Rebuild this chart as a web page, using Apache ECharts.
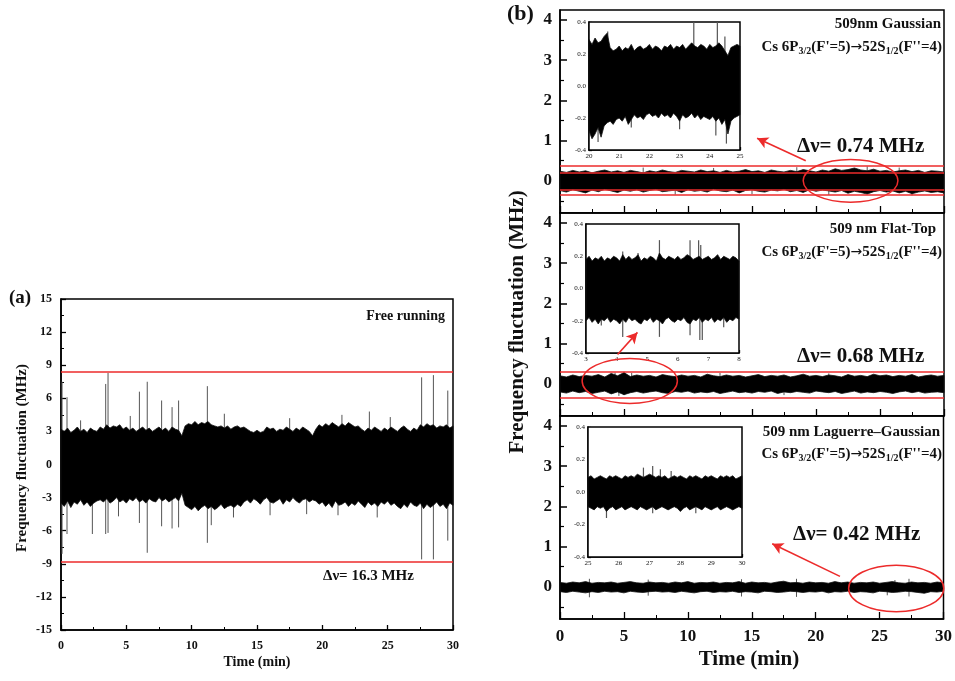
<!DOCTYPE html>
<html><head><meta charset="utf-8">
<script src="https://cdn.jsdelivr.net/npm/echarts@6/dist/echarts.min.js"></script>
<style>html,body{margin:0;padding:0;background:#fff}#c{width:955px;height:681px}</style>
</head><body><div id="c"></div>
<script>
// ---------------- DATA ----------------
// Panel (a): free running, envelope of the noise band sampled every 0.25 min (0..30)
const aStart = 0, aStep = 0.25;
const aUp = [3.2,3.0,3.3,2.9,3.1,3.4,3.0,3.2,2.9,3.3,3.1,3.0,3.4,3.2,3.6,3.3,3.5,3.4,3.6,3.2,
             3.4,3.1,3.3,3.0,3.2,3.4,3.1,3.3,3.0,3.2,3.4,3.1,3.3,3.0,3.4,3.2,3.1,2.6,3.5,3.7,
             3.6,3.9,3.6,3.8,3.7,3.9,3.6,3.5,3.4,3.5,3.3,3.5,3.2,3.4,3.5,3.3,3.4,3.2,3.0,2.9,
             3.1,2.9,3.0,3.4,3.2,3.3,3.0,3.2,3.1,3.4,3.2,3.0,3.3,3.1,3.4,3.2,3.0,2.6,3.2,3.6,
             3.4,3.7,3.5,3.8,3.6,3.4,3.7,3.5,3.8,3.6,3.4,3.5,3.2,3.0,3.3,3.1,3.4,3.2,3.0,3.3,
             3.1,3.4,3.2,3.0,3.3,3.5,3.2,3.0,3.3,3.1,3.6,3.4,3.7,3.5,3.6,3.3,3.5,3.4,3.6,3.3,3.5];
const aLo = [-3.5,-3.8,-3.3,-3.9,-3.4,-3.6,-3.2,-3.7,-3.4,-3.8,-3.5,-3.3,
             -3.2,-3.4,-3.1,-3.5,-3.3,-3.0,-3.4,-3.2,-3.5,-3.1,-3.3,-3.0,-3.4,-3.2,-3.5,-3.1,-3.3,-3.4,-3.0,-3.3,-3.1,-3.4,-3.2,-3.0,-3.3,
             -2.6,
             -3.7,-3.9,-4.1,-3.8,-4.2,-3.9,-3.7,-4.0,-3.8,-4.1,-3.9,-3.6,-4.0,-3.8,-3.7,-3.9,-3.6,-3.8,
             -3.4,-3.2,-3.5,-3.1,-3.3,-3.6,-3.2,-3.0,-3.4,-3.5,-3.3,-3.1,-3.6,-3.2,-3.4,-3.0,-3.3,-3.5,-3.2,-3.1,-3.4,-3.2,-3.3,
             -3.6,-3.4,-3.8,-3.5,-3.9,-3.3,-3.7,-3.6,-3.4,-3.8,-3.5,-3.7,-3.3,-3.6,-3.9,-3.4,-3.7,-3.5,-3.8,-3.4,-3.6,-3.3,-3.7,
             -3.5,-3.8,-4.0,-3.6,-3.9,-3.4,-3.7,-3.8,-3.5,-4.0,-3.6,-3.9,-3.7,-3.4,-3.8,-3.6,-4.0,-3.5,-3.7];
const aSpikeT = [0.08,0.46,1.5,3.42,3.6,5.3,6.0,6.6,7.7,8.5,9.0,11.2,12.5,17.5,21.5,23.6,25.2,27.6,28.5,29.6,
                 0.08,0.46,2.4,3.42,3.6,4.4,6.0,6.6,7.7,8.5,9.0,11.2,11.5,13.2,16.0,18.8,21.2,24.2,27.6,28.5,29.6];
const aSpikeV = [7.5,6.1,4.0,7.3,8.3,4.4,6.6,7.5,5.8,5.2,5.8,7.1,4.6,4.2,4.5,4.8,4.3,7.9,8.1,6.7,
                 -8.1,-6.3,-6.3,-6.3,-6.2,-4.7,-5.3,-8.0,-5.6,-5.8,-5.7,-7.1,-5.5,-4.8,-4.6,-4.5,-4.6,-4.8,-8.6,-8.6,-6.9];
const aLimits = [8.4, -8.8];

// Panel (b): envelopes sampled every 0.5 min (0..30)
const bStart = 0, bStep = 0.5;
const b1Up = [0.24,0.21,0.26,0.22,0.25,0.20,0.24,0.27,0.22,0.25,0.21,0.26,0.23,0.20,0.25,0.22,0.27,0.23,0.21,0.26,
              0.24,0.22,0.27,0.23,0.25,0.21,0.26,0.22,0.24,0.28,0.23,0.25,0.21,0.27,0.24,0.22,0.26,0.23,0.28,0.25,
              0.22,0.27,0.24,0.30,0.26,0.28,0.32,0.27,0.25,0.29,0.24,0.26,0.22,0.25,0.27,0.23,0.26,0.21,0.25,0.24,0.22];
const b1Lo = [-0.24,-0.28,-0.22,-0.26,-0.30,-0.23,-0.27,-0.21,-0.25,-0.29,-0.23,-0.26,-0.22,-0.28,-0.24,-0.21,-0.27,-0.25,-0.23,-0.29,
              -0.22,-0.26,-0.24,-0.28,-0.21,-0.25,-0.27,-0.23,-0.30,-0.24,-0.22,-0.26,-0.28,-0.23,-0.25,-0.21,-0.27,-0.24,-0.29,-0.22,
              -0.26,-0.23,-0.25,-0.28,-0.24,-0.31,-0.26,-0.29,-0.33,-0.27,-0.24,-0.28,-0.25,-0.30,-0.26,-0.32,-0.28,-0.25,-0.29,-0.27,-0.30];
const b1SpikeT = [6.5,12,18.5,24,26.5,9,15,21,27.5];
const b1SpikeV = [0.33,0.32,0.34,0.36,0.33,-0.34,-0.33,-0.35,-0.36];
const b1Limits = [0.37, 0.19, -0.22, -0.35];

const b2Up = [0.20,0.17,0.22,0.18,0.21,0.19,0.23,0.17,0.26,0.20,0.28,0.18,0.22,0.19,0.21,0.17,0.23,0.20,0.18,0.22,
              0.19,0.21,0.17,0.24,0.20,0.18,0.22,0.19,0.21,0.17,0.20,0.23,0.18,0.21,0.19,0.22,0.17,0.20,0.24,0.19,
              0.21,0.18,0.22,0.20,0.17,0.23,0.19,0.21,0.18,0.24,0.20,0.22,0.18,0.21,0.19,0.23,0.17,0.20,0.22,0.19,0.21];
const b2Lo = [-0.20,-0.23,-0.18,-0.22,-0.19,-0.24,-0.21,-0.18,-0.25,-0.20,-0.27,-0.22,-0.19,-0.23,-0.20,-0.18,-0.22,-0.24,-0.19,-0.21,
              -0.18,-0.23,-0.20,-0.22,-0.19,-0.24,-0.21,-0.18,-0.22,-0.20,-0.23,-0.19,-0.21,-0.18,-0.24,-0.20,-0.22,-0.19,-0.21,-0.23,
              -0.18,-0.20,-0.22,-0.19,-0.24,-0.21,-0.18,-0.23,-0.20,-0.22,-0.19,-0.21,-0.24,-0.20,-0.18,-0.22,-0.19,-0.23,-0.21,-0.20,-0.22];
const b2SpikeT = [4.3,5.0,5.6,12.5,21,4.6,5.0,17.5];
const b2SpikeV = [0.28,0.30,0.27,0.27,0.26,-0.30,-0.28,-0.28];
const b2Limits = [0.31, -0.35];

const b3Up = [0.11,0.09,0.12,0.10,0.13,0.09,0.11,0.10,0.12,0.09,0.11,0.13,0.10,0.09,0.12,0.10,0.11,0.09,0.12,0.10,
              0.13,0.09,0.11,0.10,0.12,0.09,0.11,0.10,0.13,0.09,0.12,0.10,0.11,0.09,0.12,0.14,0.10,0.11,0.09,0.12,
              0.10,0.11,0.09,0.13,0.10,0.12,0.09,0.11,0.10,0.12,0.09,0.11,0.13,0.10,0.09,0.12,0.10,0.11,0.09,0.12,0.10];
const b3Lo = [-0.12,-0.14,-0.11,-0.13,-0.15,-0.12,-0.14,-0.11,-0.13,-0.12,-0.15,-0.11,-0.13,-0.14,-0.12,-0.11,-0.13,-0.12,-0.14,-0.11,
              -0.13,-0.15,-0.12,-0.11,-0.14,-0.12,-0.13,-0.11,-0.14,-0.12,-0.13,-0.15,-0.11,-0.12,-0.14,-0.13,-0.11,-0.12,-0.14,-0.12,
              -0.13,-0.11,-0.15,-0.12,-0.13,-0.11,-0.14,-0.12,-0.13,-0.15,-0.11,-0.12,-0.14,-0.13,-0.11,-0.12,-0.14,-0.16,-0.12,-0.13,-0.11];
const b3SpikeT = [2.3,6.9,14.2,18.5,26.2,27.3,2.3,6.9,14.2,18.5,25.6,27.3];
const b3SpikeV = [0.20,0.18,0.19,0.20,0.17,0.20,-0.26,-0.22,-0.24,-0.25,-0.21,-0.24];

// Insets: envelopes sampled every 0.1 min
const inStep = 0.1;
const in1Start = 20;
const in1Up = [0.29,0.26,0.30,0.27,0.28,0.31,0.33,0.24,0.22,0.23,
               0.25,0.22,0.24,0.23,0.26,0.22,0.24,0.25,0.23,0.24,
               0.26,0.23,0.25,0.24,0.22,0.25,0.24,0.26,0.23,0.25,
               0.24,0.26,0.23,0.25,0.27,0.25,0.24,0.26,0.25,0.23,
               0.26,0.24,0.25,0.27,0.25,0.22,0.19,0.24,0.25,0.26,0.25];
const in1Lo = [-0.28,-0.33,-0.30,-0.26,-0.32,-0.25,-0.23,-0.22,-0.24,-0.21,
               -0.20,-0.22,-0.19,-0.24,-0.21,-0.18,-0.20,-0.19,-0.21,-0.18,
               -0.17,-0.19,-0.18,-0.20,-0.17,-0.19,-0.18,-0.20,-0.17,-0.19,
               -0.22,-0.18,-0.20,-0.19,-0.17,-0.20,-0.18,-0.21,-0.19,-0.20,
               -0.21,-0.19,-0.22,-0.20,-0.24,-0.21,-0.30,-0.22,-0.20,-0.19,-0.18];
const in1SpikeT = [23.47,24.25,20.62,24.5,23.0,24.2,24.55,20.3,21.4];
const in1SpikeV = [0.40,0.40,0.34,0.31,-0.27,-0.31,-0.36,-0.35,-0.26];

const in2Start = 3;
const in2Up = [0.18,0.20,0.17,0.19,0.18,0.20,0.17,0.19,0.18,0.20,
               0.19,0.17,0.21,0.18,0.20,0.18,0.19,0.21,0.17,0.19,
               0.18,0.20,0.19,0.17,0.22,0.19,0.18,0.20,0.19,0.18,
               0.20,0.18,0.19,0.21,0.20,0.18,0.19,0.20,0.18,0.19,
               0.20,0.18,0.19,0.21,0.18,0.20,0.19,0.18,0.20,0.19,0.17];
const in2Lo = [-0.20,-0.18,-0.21,-0.19,-0.22,-0.19,-0.20,-0.18,-0.21,-0.19,
               -0.20,-0.22,-0.19,-0.21,-0.18,-0.20,-0.19,-0.21,-0.22,-0.19,
               -0.20,-0.18,-0.21,-0.19,-0.20,-0.22,-0.19,-0.18,-0.20,-0.21,
               -0.19,-0.20,-0.18,-0.21,-0.22,-0.19,-0.20,-0.18,-0.21,-0.19,
               -0.20,-0.18,-0.21,-0.19,-0.20,-0.18,-0.21,-0.19,-0.20,-0.18,-0.19];
const in2SpikeT = [4.2,4.7,5.4,6.4,6.68,6.75,3.5,4.2,5.4,6.4,6.72,6.8,7.5];
const in2SpikeV = [0.23,0.22,0.30,0.30,0.30,0.27,-0.23,-0.30,-0.30,-0.29,-0.32,-0.32,-0.24];

const in3Start = 25;
const in3Up = [0.09,0.10,0.08,0.09,0.10,0.09,0.08,0.10,0.09,0.10,
               0.09,0.08,0.10,0.09,0.10,0.09,0.11,0.10,0.09,0.10,
               0.11,0.10,0.09,0.10,0.09,0.10,0.08,0.09,0.10,0.09,
               0.10,0.09,0.08,0.10,0.09,0.10,0.09,0.08,0.10,0.09,
               0.10,0.09,0.08,0.10,0.09,0.10,0.09,0.10,0.08,0.09,0.10];
const in3Lo = [-0.09,-0.10,-0.11,-0.09,-0.10,-0.09,-0.12,-0.10,-0.09,-0.11,
               -0.10,-0.09,-0.11,-0.10,-0.09,-0.10,-0.11,-0.09,-0.10,-0.11,
               -0.10,-0.09,-0.11,-0.10,-0.09,-0.10,-0.11,-0.10,-0.09,-0.10,
               -0.12,-0.10,-0.09,-0.11,-0.10,-0.09,-0.10,-0.11,-0.09,-0.10,
               -0.11,-0.10,-0.09,-0.11,-0.10,-0.09,-0.10,-0.11,-0.10,-0.09,-0.10];
const in3SpikeT = [26.8,27.1,27.35,27.7,25.6,27.1,28.5];
const in3SpikeV = [0.15,0.16,0.14,0.13,-0.16,-0.13,-0.13];

const bMajorY = [0,1,2,3,4];
const bMinorY = [-0.5,0.5,1.5,2.5,3.5];

// ---------------- CHART ----------------
const FONT = "'Liberation Serif','Times New Roman',serif";
const RED = '#ec2b2b';
const INK = '#111';
const chart = echarts.init(document.getElementById('c'));

function pairs(ts, vs){ return ts.map((t,i)=>[t, vs[i]]); }

function xAx(gi, min, max, interval, showLabel, fs, tl, ml, margin){
  return {type:'value', gridIndex:gi, min, max, interval,
    axisLine:{show:true, onZero:false, lineStyle:{color:'#000', width:1.5}},
    axisTick:{show:true, inside:true, length:tl, lineStyle:{color:'#000', width:1.3}},
    minorTick:{show:true, splitNumber:2, length:ml, lineStyle:{color:'#000', width:1}},
    axisLabel:{show:showLabel, color:INK, fontFamily:FONT, fontWeight:showLabel&&fs>8?'bold':'normal', fontSize:fs, margin},
    splitLine:{show:false}, minorSplitLine:{show:false}};
}
function yAxStd(gi, min, max, interval, fs, tl, ml, margin, fmt){
  return {type:'value', gridIndex:gi, min, max, interval,
    axisLine:{show:true, onZero:false, lineStyle:{color:'#000', width:1.5}},
    axisTick:{show:true, inside:true, length:tl, lineStyle:{color:'#000', width:1.3}},
    minorTick:{show:true, splitNumber:2, length:ml, lineStyle:{color:'#000', width:1}},
    axisLabel:{color:INK, fontFamily:FONT, fontWeight: fs>8?'bold':'normal', fontSize:fs, margin, formatter:fmt},
    splitLine:{show:false}, minorSplitLine:{show:false}};
}
function yAxB(gi){
  return {type:'value', gridIndex:gi, min:-0.8, max:4.25,
    axisLine:{show:true, onZero:false, lineStyle:{color:'#000', width:1.5}},
    axisTick:{show:true, inside:true, length:7, lineStyle:{color:'#000', width:1.5}, customValues:bMajorY},
    axisLabel:{color:INK, fontFamily:FONT, fontWeight:'bold', fontSize:17, margin:8, customValues:bMajorY},
    splitLine:{show:false}};
}
function yAxBminor(gi){
  return {type:'value', gridIndex:gi, min:-0.8, max:4.25, position:'left',
    axisLine:{show:false},
    axisTick:{show:true, inside:true, length:4, lineStyle:{color:'#000', width:1.2}, customValues:bMinorY},
    axisLabel:{show:false},
    splitLine:{show:false}};
}

const grids = [
  {left:61, top:299, width:392, height:331},
  {left:560, top:10, width:384, height:203},
  {left:560, top:213, width:384, height:203},
  {left:560, top:416, width:384, height:203},
  {left:589, top:22, width:151, height:128, z:5},
  {left:586, top:224, width:153, height:129, z:5},
  {left:588, top:427, width:154, height:130, z:5}
].map(g=>Object.assign({show:true, borderColor:'#000', borderWidth:1.5, backgroundColor:'#fff', containLabel:false}, g));

const xAxes = [
  xAx(0, 0, 30, 5, true, 12, 5, 3, 10),
  xAx(1, 0, 30, 5, false, 16, 7, 4, 8),
  xAx(2, 0, 30, 5, false, 16, 7, 4, 8),
  xAx(3, 0, 30, 5, true, 17, 7, 4, 9),
  xAx(4, 20, 25, 1, true, 7, 3, 2, 3),
  xAx(5, 3, 8, 1, true, 7, 3, 2, 3),
  xAx(6, 25, 30, 1, true, 7, 3, 2, 3)
];
const fmt1 = v => v.toFixed(1);
const yAxes = [
  yAxStd(0, -15, 15, 3, 12, 5, 3, 9),
  yAxB(1), yAxB(2), yAxB(3),
  yAxStd(4, -0.4, 0.4, 0.2, 7, 3, 2, 3, fmt1),
  yAxStd(5, -0.4, 0.4, 0.2, 7, 3, 2, 3, fmt1),
  yAxStd(6, -0.4, 0.4, 0.2, 7, 3, 2, 3, fmt1),
  yAxBminor(1), yAxBminor(2), yAxBminor(3)
];

// the noise band: one filled outline through the upper envelope and back along the lower one
function bandSeries(ax, start, step, up, lo, z){
  return {type:'custom', xAxisIndex:ax, yAxisIndex:ax, data:[[start, 0]], silent:true, z:z||3,
    renderItem:(params, api)=>{
      const pts = [];
      for (let i = 0; i < up.length; i++) pts.push(api.coord([start + i*step, up[i]]));
      for (let i = lo.length - 1; i >= 0; i--) pts.push(api.coord([start + i*step, lo[i]]));
      return {type:'polygon', shape:{points:pts}, style:{fill:'#000', stroke:'#111', lineWidth:0.8}};
    }};
}
// isolated spikes, drawn under the band so only their outer part shows
function spikeSeries(ax, data, w, z){
  return {type:'custom', xAxisIndex:ax, yAxisIndex:ax, data, silent:true, z:z||2,
    renderItem:(params, api)=>{
      const p0 = api.coord([api.value(0), 0]);
      const p1 = api.coord([api.value(0), api.value(1)]);
      return {type:'line', shape:{x1:p0[0], y1:p0[1], x2:p1[0], y2:p1[1]},
              style:{stroke:'#555', lineWidth:w||1}};
    }};
}
// red limit lines and arrows, carried by an empty line series drawn above the band
function limitSeries(ax, vals, arrows){
  const data = vals.map(v=>({yAxis:v}));
  (arrows||[]).forEach(a=>data.push([{coord:[a[0],a[1]], symbol:'none'}, {coord:[a[2],a[3]], symbol:'arrow', symbolSize:[9,11]}]));
  return {type:'line', xAxisIndex:ax, yAxisIndex:ax, data:[], z:10, silent:true,
    markLine:{silent:true, symbol:['none','none'], label:{show:false}, z:10,
      lineStyle:{color:RED, width:1.6, type:'solid'}, data, animation:false}};
}
function ellipseSeries(ax, e){
  return {type:'custom', xAxisIndex:ax, yAxisIndex:ax, data:[e], silent:true, z:7, clip:false,
    renderItem:(params, api)=>{
      const c = api.coord([api.value(0), api.value(1)]);
      const s = api.size([api.value(2), api.value(3)]);
      return {type:'ellipse', shape:{cx:c[0], cy:c[1], rx:s[0], ry:s[1]},
              style:{fill:'none', stroke:RED, lineWidth:1.5}};
    }};
}

const series = [
  bandSeries(0, aStart, aStep, aUp, aLo, 3),
  spikeSeries(0, pairs(aSpikeT, aSpikeV), 1),
  limitSeries(0, aLimits),

  bandSeries(1, bStart, bStep, b1Up, b1Lo, 3),
  spikeSeries(1, pairs(b1SpikeT, b1SpikeV), 1),
  limitSeries(1, b1Limits, [[19.2,0.5,15.4,1.06]]),
  ellipseSeries(1, [22.7, 0.0, 3.7, 0.53]),

  bandSeries(2, bStart, bStep, b2Up, b2Lo, 3),
  spikeSeries(2, pairs(b2SpikeT, b2SpikeV), 1),
  limitSeries(2, b2Limits, [[4.5,0.73,6.05,1.28]]),
  ellipseSeries(2, [5.45, 0.07, 3.72, 0.56]),

  bandSeries(3, bStart, bStep, b3Up, b3Lo, 3),
  spikeSeries(3, pairs(b3SpikeT, b3SpikeV), 1),
  limitSeries(3, [], [[21.9,0.26,16.6,1.07]]),
  ellipseSeries(3, [26.3, -0.04, 3.72, 0.58]),

  bandSeries(4, in1Start, inStep, in1Up, in1Lo, 9),
  spikeSeries(4, pairs(in1SpikeT, in1SpikeV), 1.2, 8),
  bandSeries(5, in2Start, inStep, in2Up, in2Lo, 9),
  spikeSeries(5, pairs(in2SpikeT, in2SpikeV), 1.2, 8),
  bandSeries(6, in3Start, inStep, in3Up, in3Lo, 9),
  spikeSeries(6, pairs(in3SpikeT, in3SpikeV), 1.2, 8)
];

function txt(text, x, y, size, align, extra){
  return Object.assign({type:'text', x, y, z:20, silent:true,
    style:{text, fill:INK, font:'bold '+size+'px '+FONT,
      textAlign:align||'left', textVerticalAlign:'middle', align:align||'left', verticalAlign:'middle'}},
    extra || {});
}
function csLine(x, y){
  return {type:'text', x, y, z:20, silent:true,
    style:{text:"Cs 6P{s|3/2}(F'=5){a|\u2192}52S{s|1/2}(F''=4)", fill:INK, font:'bold 15px '+FONT,
      textAlign:'right', textVerticalAlign:'middle', align:'right', verticalAlign:'middle',
      rich:{s:{font:'bold 10px '+FONT, fill:INK, padding:[8,0,0,0]},
            a:{font:'14px "DejaVu Sans"', fill:INK}}}};
}

const graphics = [
  txt('(a)', 9, 298, 19, 'left'),
  txt('(b)', 507, 14, 22, 'left'),
  txt('Free running', 445, 316, 14, 'right'),
  txt('\u0394\u03bd= 16.3 MHz', 323, 576, 15, 'left'),
  txt('Frequency fluctuation (MHz)', 22, 458, 15, 'center', {rotation:Math.PI/2}),
  txt('Time (min)', 257, 662, 14, 'center'),
  txt('Frequency fluctuation (MHz)', 518, 322, 21, 'center', {rotation:Math.PI/2}),
  txt('Time (min)', 749, 660, 21, 'center'),

  txt('509nm Gaussian', 941, 24, 15, 'right'),
  csLine(942, 47),
  txt('\u0394\u03bd= 0.74 MHz', 797, 147, 21, 'left'),

  txt('509 nm Flat-Top', 936, 229, 15, 'right'),
  csLine(942, 252),
  txt('\u0394\u03bd= 0.68 MHz', 797, 357, 21, 'left'),

  txt('509 nm Laguerre\u2013Gaussian', 940, 432, 15, 'right'),
  csLine(942, 454),
  txt('\u0394\u03bd= 0.42 MHz', 793, 535, 21, 'left')
];

chart.setOption({
  animation:false,
  backgroundColor:'#fff',
  grid:grids, xAxis:xAxes, yAxis:yAxes, series, graphic:graphics
});
</script></body></html>
